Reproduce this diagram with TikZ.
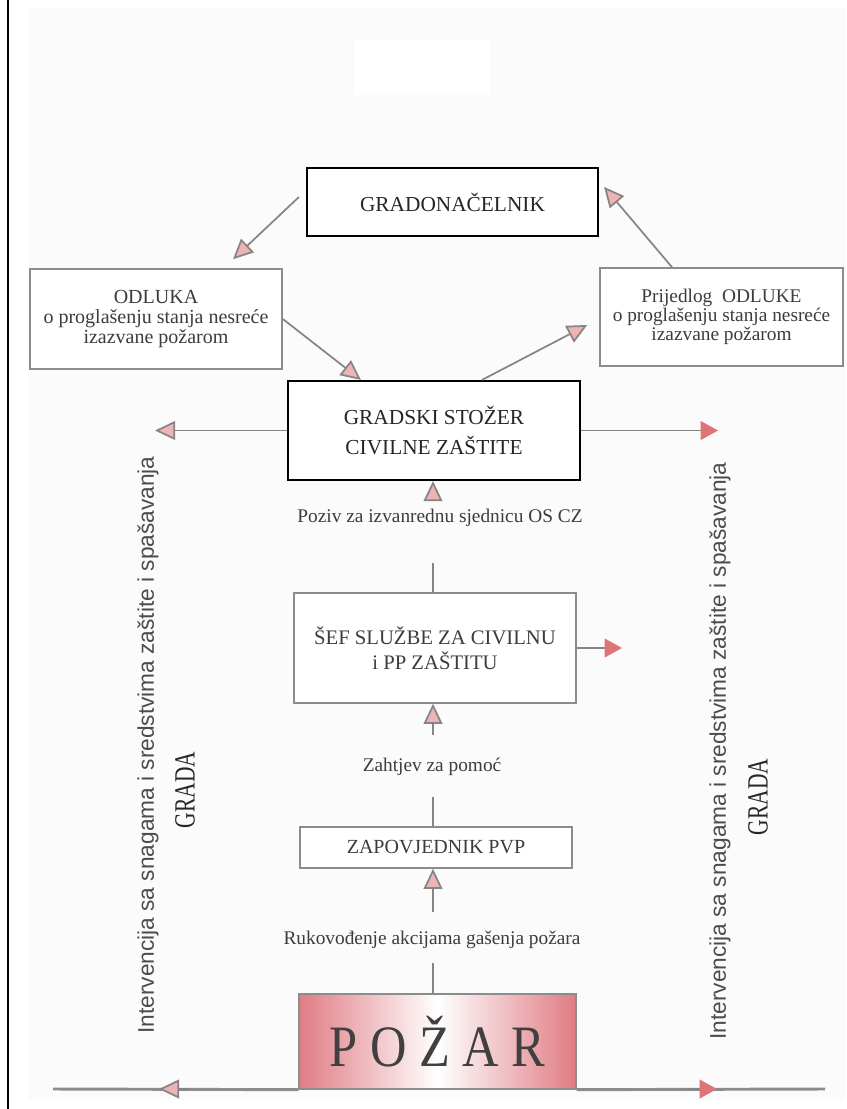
\documentclass[tikz,border=0pt]{standalone}
\usepackage{fontspec}
\setmainfont{Liberation Serif}
\newfontfamily\arialf{Liberation Sans}
\usetikzlibrary{arrows.meta,calc}
\definecolor{bggray}{HTML}{FAFBFA}
\definecolor{linegray}{HTML}{858585}
\definecolor{boxgray}{HTML}{8C8C8C}
\definecolor{txtgray}{HTML}{3C3C3C}
\definecolor{headpink}{HTML}{EEB4B4}
\definecolor{headred}{HTML}{DC7478}
\definecolor{firered}{HTML}{E07C84}
\begin{document}
\begin{tikzpicture}[x=0.75pt,y=-0.75pt,
  openhd/.tip={Triangle[length=15pt,width=14pt,fill=headpink,color=linegray]},
  redhd/.tip={Triangle[length=13pt,width=14pt,fill=headred,color=headred]},
  conn/.style={draw=linegray,line width=1.3pt},
  blackbox/.style={draw=black,line width=1.6pt,fill=white,inner sep=0pt,align=center,text=black!85},
  graybox/.style={draw=boxgray,line width=1.2pt,fill=white,inner sep=0pt,align=center,text=txtgray},
  lbl/.style={text=txtgray,font=\fontsize{14.5}{16}\selectfont,inner sep=1pt},
  vtxt/.style={rotate=90,text=black!70,font=\arialf\fontsize{17}{18}\selectfont},
  gradatxt/.style={rotate=90,text=black!85}
]
\useasboundingbox (0,0) rectangle (846,1109);
% background
\fill[bggray] (28,8) rectangle (846,1100);
\fill[white] (355,40) rectangle (490,95);
\draw[black,line width=1.5pt] (8,0) -- (8,1109);

% boxes
\node[blackbox,minimum width=218.25pt,minimum height=51pt,font=\fontsize{16}{18}\selectfont] (gn) at (452.5,202) {GRADONAČELNIK};
\node[graybox,minimum width=189pt,minimum height=75pt,font=\fontsize{15}{15}\selectfont] (odluka) at (156,319) {ODLUKA\\o proglašenju stanja nesreće\\izazvane požarom};
\node[graybox,minimum width=182.25pt,minimum height=73.5pt,font=\fontsize{14.5}{14.5}\selectfont] (prij) at (721.5,317) {Prijedlog\ \ ODLUKE\\o proglašenju stanja nesreće\\izazvane požarom};
\node[blackbox,minimum width=219pt,minimum height=74.25pt,font=\fontsize{16}{23}\selectfont] (stozer) at (434,430.5) {GRADSKI STOŽER\\CIVILNE ZAŠTITE};
\node[graybox,minimum width=211.5pt,minimum height=82.5pt,font=\fontsize{15.5}{19}\selectfont] (sef) at (435,648) {ŠEF SLUŽBE ZA CIVILNU\\i PP ZAŠTITU};
\node[graybox,minimum width=204pt,minimum height=30.75pt,font=\fontsize{15}{16}\selectfont] (zap) at (436,847.5) {ZAPOVJEDNIK PVP};
\node[draw=boxgray,line width=1pt,minimum width=207.75pt,minimum height=71.25pt,inner sep=0pt,
      left color=firered,right color=firered,middle color=white,text=black!75] (pozar) at (437.5,1041.5)
      {\scalebox{0.86}[1]{\fontsize{44}{44}\selectfont P O Ž A R}};

% labels
\node[lbl] (poziv) at (440,518) {Poziv za izvanrednu sjednicu OS CZ};
\node[lbl] (zaht) at (432,767) {Zahtjev za pomoć};
\node[lbl] (ruk) at (432,940) {Rukovođenje akcijama gašenja požara};

% vertical texts
\node[vtxt] (vl) at (148,745) {Intervencija sa snagama i sredstvima zaštite i spašavanja};
\node[vtxt] (vr) at (720,751) {Intervencija sa snagama i sredstvima zaštite i spašavanja};
\node[gradatxt] (gl) at (185,790) {\scalebox{0.73}[1]{\fontsize{22}{22}\selectfont GRADA}};
\node[gradatxt] (gr) at (758,797) {\scalebox{0.73}[1]{\fontsize{22}{22}\selectfont GRADA}};

% diagonal connectors
\draw[conn,-openhd] ($(gn.west)+(-7,-5)$) -- ($(odluka.north)+(77,-9)$);
\draw[conn,-openhd] (odluka.east) -- ($(stozer.north west)+(74,0)$);
\draw[conn,-openhd] ($(stozer.north)+(48,0)$) -- ($(prij.west)+(-12,8)$);
\draw[conn,-openhd] ($(prij.north)+(-49.5,0)$) -- ($(gn.north east)+(5,20)$);

% horizontal connectors from stozer
\coordinate (hl) at (155,430.5);
\coordinate (hr) at (718,430.5);
\draw[conn,-openhd] (stozer.west) -- (hl);
\draw[conn,-redhd] (stozer.east) -- (hr);
\coordinate (sr) at (622,648);
\draw[conn,-redhd] (sef.east) -- (sr);

% vertical chain
\coordinate (a1) at (433,498);
\coordinate (a2) at (433,563);
\coordinate (a3) at (433,735);
\coordinate (a4) at (433,797);
\coordinate (a5) at (433,912);
\coordinate (a6) at (433,963);
\draw[conn,-openhd] (a1) -- (a1 |- stozer.south);
\draw[conn] (a2) -- (a2 |- sef.north);
\draw[conn,-openhd] (a3) -- (a3 |- sef.south);
\draw[conn] (a4) -- (a4 |- zap.north);
\draw[conn,-openhd] (a5) -- (a5 |- zap.south);
\draw[conn] (a6) -- (a6 |- pozar.north);

% bottom line
\coordinate (bl) at (53,1089);
\coordinate (br) at (825,1089);
\draw[draw=black!45,line width=2.2pt] (bl) -- (pozar.south west);
\draw[draw=black!45,line width=2.2pt] (pozar.south east) -- (br);
\coordinate (bhl) at (159,1089);
\coordinate (bhr) at (717,1089);
\draw[conn,-openhd] ($(bhl)+(30,0)$) -- (bhl);
\draw[conn,-redhd] ($(bhr)+(-30,0)$) -- (bhr);
\end{tikzpicture}
\end{document}
